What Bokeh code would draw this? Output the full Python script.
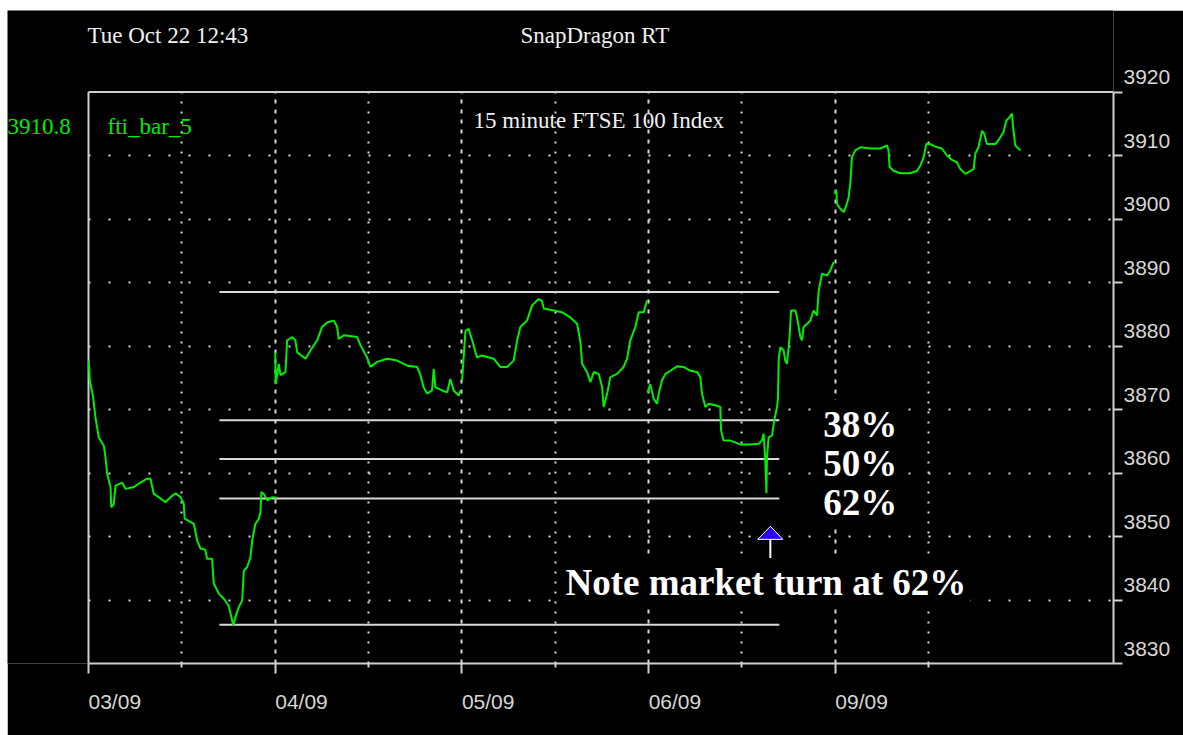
from bokeh.plotting import figure
from bokeh.models import (FixedTicker, Label, CustomJSTickFormatter, ColumnDataSource,
                          Range1d, LinearAxis, Grid)
from bokeh.embed import file_html
from bokeh.resources import INLINE

# ---------------- data ----------------
DAY_LABELS = ["03/09", "04/09", "05/09", "06/09", "09/09"]
DAY_POS = [0, 1, 2, 3, 4]
HALF_DAY_POS = [0.5, 1.5, 2.5, 3.5, 4.5]
PRICE_TICKS = [3830, 3840, 3850, 3860, 3870, 3880, 3890, 3900, 3910, 3920]

# 15 minute FTSE 100 bars; x = trading-day offset from 03/09
s0309_x = [0.002, 0.007, 0.025, 0.037, 0.055, 0.082, 0.091, 0.100, 0.118, 0.122,
           0.135, 0.145, 0.180, 0.198, 0.243, 0.278, 0.314, 0.332, 0.350, 0.376,
           0.412, 0.439, 0.466, 0.493, 0.510, 0.515, 0.564, 0.582, 0.600, 0.626,
           0.635, 0.662, 0.671, 0.698, 0.725, 0.751, 0.769, 0.775, 0.787, 0.805,
           0.823, 0.832, 0.850, 0.867, 0.877, 0.894, 0.912, 0.921, 0.926, 0.939,
           0.957, 0.984, 1.008]
s0309_y = [3877.7, 3874.6, 3871.9, 3868.8, 3865.6, 3864.3, 3862.5, 3859.9, 3857.8, 3854.6,
           3855.1, 3858.0, 3858.5, 3857.5, 3857.8, 3858.5, 3859.1, 3859.1, 3856.7, 3856.2,
           3855.4, 3856.2, 3856.8, 3856.2, 3855.2, 3852.8, 3852.0, 3849.4, 3848.1, 3847.9,
           3846.5, 3846.5, 3842.6, 3841.0, 3840.2, 3839.1, 3836.8, 3836.0, 3837.3, 3838.9,
           3839.9, 3844.6, 3845.2, 3846.7, 3849.4, 3852.0, 3852.8, 3853.8, 3857.0, 3856.7,
           3855.7, 3856.2, 3856.1]

s0409_x = [1.000, 1.003, 1.019, 1.028, 1.055, 1.064, 1.091, 1.108, 1.118, 1.162,
           1.189, 1.225, 1.251, 1.278, 1.314, 1.332, 1.340, 1.367, 1.439, 1.457,
           1.492, 1.510, 1.546, 1.599, 1.653, 1.707, 1.760, 1.778, 1.795, 1.814,
           1.840, 1.849, 1.858, 1.894, 1.921, 1.938, 1.956, 1.983, 1.992]
s0409_y = [3879.0, 3874.0, 3877.2, 3875.4, 3875.9, 3880.9, 3881.4, 3880.9, 3879.0, 3878.0,
           3879.3, 3880.9, 3883.0, 3883.7, 3884.0, 3883.0, 3881.1, 3881.7, 3881.4, 3880.1,
           3878.2, 3876.7, 3877.5, 3878.0, 3877.7, 3876.9, 3876.7, 3875.4, 3873.5, 3872.5,
           3873.0, 3876.4, 3873.5, 3873.0, 3872.7, 3874.8, 3873.0, 3872.2, 3873.0]

s0509_x = [2.001, 2.019, 2.036, 2.055, 2.081, 2.108, 2.170, 2.206, 2.242, 2.277,
           2.296, 2.313, 2.349, 2.376, 2.411, 2.429, 2.438, 2.492, 2.537, 2.581,
           2.617, 2.635, 2.644, 2.670, 2.688, 2.706, 2.733, 2.751, 2.759, 2.778,
           2.795, 2.831, 2.866, 2.885, 2.902, 2.929, 2.947, 2.973, 2.992]
s0509_y = [3874.6, 3882.4, 3882.7, 3880.9, 3878.2, 3878.5, 3878.0, 3876.7, 3876.7, 3877.7,
           3880.9, 3883.0, 3884.0, 3886.4, 3887.4, 3887.1, 3885.9, 3885.6, 3885.3, 3884.5,
           3883.5, 3880.6, 3877.2, 3875.9, 3874.3, 3875.9, 3875.6, 3873.5, 3870.4, 3872.5,
           3875.1, 3875.6, 3876.7, 3878.0, 3880.9, 3883.0, 3885.3, 3885.3, 3887.2]

s0609_x = [2.995, 3.009, 3.027, 3.045, 3.054, 3.072, 3.090, 3.117, 3.152, 3.188,
           3.224, 3.259, 3.277, 3.286, 3.304, 3.322, 3.366, 3.384, 3.388, 3.402,
           3.438, 3.491, 3.545, 3.589, 3.607, 3.616, 3.625, 3.631, 3.634, 3.643,
           3.661, 3.673, 3.688, 3.693, 3.697, 3.706, 3.723, 3.732, 3.741, 3.750,
           3.755, 3.763, 3.786, 3.795, 3.804, 3.813, 3.822, 3.830, 3.849, 3.866,
           3.884, 3.902, 3.911, 3.929, 3.956, 3.973, 3.991]
s0609_y = [3872.7, 3874.0, 3871.7, 3870.9, 3872.5, 3874.6, 3875.6, 3876.1, 3876.8, 3876.7,
           3876.1, 3875.9, 3875.1, 3872.5, 3870.4, 3870.9, 3870.6, 3870.4, 3866.7, 3865.1,
           3865.1, 3864.5, 3864.5, 3864.6, 3865.1, 3866.2, 3862.0, 3856.8, 3862.5, 3865.6,
           3865.9, 3868.3, 3870.4, 3871.9, 3878.0, 3879.8, 3879.3, 3877.7, 3877.2, 3879.8,
           3881.4, 3885.6, 3885.6, 3884.5, 3883.0, 3881.4, 3880.9, 3883.0, 3883.5, 3884.0,
           3885.6, 3884.8, 3888.7, 3891.4, 3891.1, 3891.9, 3893.2]

s0909_x = [3.995, 4.005, 4.009, 4.027, 4.045, 4.059, 4.071, 4.080, 4.089, 4.107,
           4.134, 4.187, 4.241, 4.277, 4.285, 4.291, 4.312, 4.348, 4.402, 4.438,
           4.455, 4.473, 4.487, 4.509, 4.536, 4.571, 4.598, 4.625, 4.652, 4.669,
           4.696, 4.714, 4.741, 4.750, 4.767, 4.786, 4.798, 4.812, 4.857, 4.874,
           4.901, 4.916, 4.933, 4.946, 4.952, 4.964, 4.991]
s0909_y = [3904.0, 3904.5, 3902.4, 3901.6, 3901.1, 3902.1, 3903.4, 3905.5, 3909.7, 3910.8,
           3911.3, 3911.1, 3911.1, 3911.6, 3910.8, 3908.2, 3907.6, 3907.2, 3907.2, 3907.6,
           3908.4, 3909.7, 3911.8, 3911.8, 3911.4, 3911.1, 3910.0, 3909.3, 3908.9, 3907.9,
           3907.1, 3907.4, 3907.9, 3910.3, 3911.3, 3913.9, 3913.4, 3911.8, 3911.8, 3912.4,
           3913.7, 3915.5, 3916.0, 3916.6, 3914.5, 3911.6, 3910.8]

# Fibonacci retracement levels (swing high, 38%, 50%, 62%, swing low)
FIB_LEVELS = [3888.5, 3868.3, 3862.2, 3856.0, 3836.1]
FIB_NAMES = ["", "38%", "50%", "62%", ""]
FIB_START = 0.701
FIB_END = 3.700

LAST_VALUE = "3910.8"
SERIES_NAME = "fti_bar_5"
ARROW_X = 3.652
ARROW_TIP = 3851.6
ARROW_TAIL = 3845.9

# ---------------- layout ----------------
CW, CH = 1176, 725                                # canvas size
BOX_L, BOX_R, BOX_T, BOX_B = 81, 1106, 81.5, 653   # chart box in canvas px
X_END = 5.49
Y0, Y1 = PRICE_TICKS[0], PRICE_TICKS[-1]
PPD = (BOX_R - BOX_L) / X_END                     # px per day
PPU = (BOX_B - BOX_T) / (Y1 - Y0)                 # px per index point
XS = -BOX_L / PPD
YT = Y1 + BOX_T / PPU

FRAME = "#cfcfcf"
GRID = "#d8d8d8"
GREEN = "#00ee00"
WHITE = "#f0f0f0"
TICKC = "#d6d6d6"
SERIF = "Liberation Serif"
SANS = "Liberation Sans"


def dx(cx):
    return XS + cx / PPD


def dy(cy):
    return Y0 + (BOX_B - cy) / PPU


p = figure(width=CW, height=CH, x_range=Range1d(XS, X_END), y_range=Range1d(Y0, YT),
           x_axis_location=None, y_axis_location=None, title=None,
           output_backend="svg", toolbar_location=None,
           min_border_left=0, min_border_top=0,
           min_border_right=CW - BOX_R, min_border_bottom=CH - BOX_B,
           background_fill_color="black", border_fill_color="black")
p.outline_line_color = None
p.styles = {"margin-left": "7px", "margin-top": "10px"}
# drop the default grids; custom ones are added below
p.center = [r for r in p.center if not isinstance(r, Grid)]

blank = CustomJSTickFormatter(code="return ''")

# label ranges shifted so that labels sit above the tick / start at the tick
Y_SHIFT = 15 / PPU
X_SHIFT = 26.3 / PPD
p.extra_y_ranges = {"ylab": Range1d(Y0 - Y_SHIFT, YT - Y_SHIFT)}
p.extra_x_ranges = {"xlab": Range1d(XS - X_SHIFT, X_END - X_SHIFT)}

# right axis: ticks
yax = LinearAxis(ticker=FixedTicker(ticks=PRICE_TICKS), formatter=blank, bounds=(Y0, Y1),
                 major_tick_in=0, major_tick_out=9, minor_tick_line_color=None,
                 axis_line_color=FRAME, axis_line_width=2,
                 major_tick_line_color=FRAME, major_tick_line_width=2,
                 major_label_standoff=0)
p.add_layout(yax, "right")
# right axis: labels
ylab = LinearAxis(y_range_name="ylab", ticker=FixedTicker(ticks=PRICE_TICKS),
                  axis_line_color=None, major_tick_line_color=None,
                  minor_tick_line_color=None, major_tick_in=0, major_tick_out=0,
                  major_label_standoff=1, major_label_text_font=SANS,
                  major_label_text_font_size="21px", major_label_text_color=TICKC)
p.add_layout(ylab, "right")

# bottom axis: ticks
xax = LinearAxis(ticker=FixedTicker(ticks=DAY_POS, minor_ticks=HALF_DAY_POS),
                 formatter=blank, bounds=(0, X_END),
                 major_tick_in=0, major_tick_out=10, minor_tick_in=0, minor_tick_out=4,
                 axis_line_color=FRAME, axis_line_width=2,
                 major_tick_line_color=FRAME, major_tick_line_width=2,
                 minor_tick_line_color=FRAME, minor_tick_line_width=2,
                 major_label_standoff=0)
p.add_layout(xax, "below")
# bottom axis: labels
xlab = LinearAxis(x_range_name="xlab", ticker=FixedTicker(ticks=DAY_POS),
                  major_label_overrides={d: t for d, t in zip(DAY_POS, DAY_LABELS)},
                  axis_line_color=None, major_tick_line_color=None,
                  minor_tick_line_color=None, major_tick_in=0, major_tick_out=0,
                  major_label_standoff=16, major_label_text_font=SANS,
                  major_label_text_font_size="21px", major_label_text_color=TICKC)
p.add_layout(xlab, "below")

# grids
has_cross = "cross_bounds" in Grid.properties()
if has_cross:
    vg = Grid(dimension=0, ticker=FixedTicker(ticks=DAY_POS[1:], minor_ticks=HALF_DAY_POS),
              cross_bounds=(Y0, Y1), grid_line_color=GRID, grid_line_width=2,
              grid_line_dash="4 6", minor_grid_line_color=GRID,
              minor_grid_line_width=2, minor_grid_line_dash="2 8")
    hg = Grid(dimension=1, ticker=FixedTicker(ticks=PRICE_TICKS[1:-1]),
              cross_bounds=(0, X_END), grid_line_color=GRID, grid_line_width=2,
              grid_line_dash="2 18")
    p.add_layout(vg)
    p.add_layout(hg)
else:
    p.segment(x0=DAY_POS[1:], x1=DAY_POS[1:], y0=Y0, y1=Y1, line_color=GRID,
              line_width=2, line_dash="4 6", level="underlay")
    p.segment(x0=HALF_DAY_POS, x1=HALF_DAY_POS, y0=Y0, y1=Y1, line_color=GRID,
              line_width=2, line_dash="2 8", level="underlay")
    p.segment(x0=0, x1=X_END, y0=PRICE_TICKS[1:-1], y1=PRICE_TICKS[1:-1],
              line_color=GRID, line_width=2, line_dash="2 18", level="underlay")

# left and top edges of the chart box
p.segment(x0=[0, 0], y0=[Y0, Y1], x1=[0, X_END], y1=[Y1, Y1],
          line_color=FRAME, line_width=2)

# retracement lines
fib_src = ColumnDataSource(dict(x0=[FIB_START] * len(FIB_LEVELS),
                                x1=[FIB_END] * len(FIB_LEVELS),
                                y=FIB_LEVELS))
p.segment(x0="x0", y0="y", x1="x1", y1="y", source=fib_src, line_color="#d9d9d9",
          line_width=2)

# price line, sessions separated by gaps
nan = float("nan")
xs, ys = [], []
for sx, sy in [(s0309_x, s0309_y), (s0409_x, s0409_y), (s0509_x, s0509_y),
               (s0609_x, s0609_y), (s0909_x, s0909_y)]:
    if xs:
        xs.append(nan)
        ys.append(nan)
    xs.extend(sx)
    ys.extend(sy)
p.line(xs, ys, line_color=GREEN, line_width=2)

# arrow
hw = 12.5 / PPD
hh = 13.0 / PPU
p.segment(x0=[ARROW_X], y0=[ARROW_TAIL], x1=[ARROW_X], y1=[ARROW_TIP - hh],
          line_color="white", line_width=2)
p.patch([ARROW_X - hw, ARROW_X + hw, ARROW_X], [ARROW_TIP - hh, ARROW_TIP - hh, ARROW_TIP],
        fill_color="#2a00ff", line_color="white", line_width=1)


def lab(text, x, y, size, color, font, **kw):
    p.add_layout(Label(x=x, y=y, text=text, text_font=font,
                       text_font_size=f"{size}px", text_color=color, **kw))


# header texts (anchor y corrected for Bokeh's baseline handling)
lab("Tue Oct 22 12:43", dx(80), dy(25), 23, WHITE, SERIF,
    text_align="left", text_baseline="alphabetic")
lab("SnapDragon RT", dx(513), dy(25), 23, WHITE, SERIF,
    text_align="left", text_baseline="alphabetic")
lab("15 minute FTSE 100 Index", dx(466), dy(110), 23, WHITE, SERIF,
    text_align="left", text_baseline="alphabetic")
lab(LAST_VALUE, dx(0), dy(116), 23, GREEN, SERIF,
    text_align="left", text_baseline="alphabetic")
lab(SERIES_NAME, dx(100), dy(116), 23, GREEN, SERIF,
    text_align="left", text_baseline="alphabetic")

# retracement annotations
for lvl, name in zip(FIB_LEVELS, FIB_NAMES):
    if name:
        lab(name, FIB_END, lvl, 37, "white", SERIF, x_offset=40, y_offset=-4,
            text_align="left", text_baseline="alphabetic", text_font_style="bold",
            background_fill_color="black", padding=4)

lab("Note market turn at 62%", dx(554), dy(572), 37, "white", SERIF,
    text_align="left", text_baseline="alphabetic", text_font_style="bold",
    background_fill_color="black", padding=4)

open("out.html", "w").write(file_html(p, INLINE))
